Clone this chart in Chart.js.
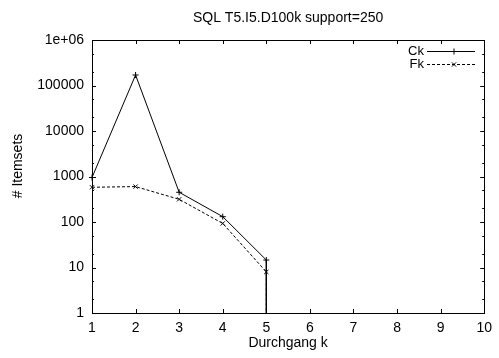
<!DOCTYPE html>
<html>
<head>
<meta charset="utf-8">
<script src="https://cdn.jsdelivr.net/npm/chart.js@4/dist/chart.umd.min.js"></script>
<style>
  html, body { margin: 0; padding: 0; background: #fff; }
  #wrap { width: 499px; height: 358px; }
</style>
</head>
<body>
<div id="wrap"><canvas id="c" width="499" height="358"></canvas></div>
<script>
// ---- data ----
const passes = [1, 2, 3, 4, 5, 5];               // Durchgang k
const ckValues = [950, 170000, 450, 131, 14.6, 0]; // Ck
const fkValues = [580, 600, 315, 93, 8, 0];        // Fk
const xTickValues = [1, 2, 3, 4, 5, 6, 7, 8, 9, 10];
const yTickValues = [1, 10, 100, 1000, 10000, 100000, 1000000];
const yTickLabels = ['1', '10', '100', '1000', '10000', '100000', '1e+06'];
const titleText = 'SQL T5.I5.D100k support=250';
const xTitle = 'Durchgang k';
const yTitle = '# Itemsets';

const FONT = '"Liberation Sans", Arial, Helvetica, sans-serif';
const Y_MIN = 1, Y_MAX = 1000000;

// a count of 0 cannot sit on a log axis: it is drawn on the bottom edge
function toPoints(xs, ys) {
  return xs.map((x, i) => ({ x: x, y: ys[i] === 0 ? Y_MIN : ys[i], zero: ys[i] === 0 }));
}

const frame = {
  id: 'frame',
  afterDatasetsDraw(chart) {
    const ctx = chart.ctx;
    const a = chart.chartArea;
    const xs = chart.scales.x, ys = chart.scales.y;
    ctx.save();
    ctx.strokeStyle = '#000';
    ctx.lineWidth = 1;
    ctx.setLineDash([]);
    ctx.beginPath();
    const major = 4, minor = 2;
    xTickValues.forEach(v => {
      const px = Math.round(xs.getPixelForValue(v)) + 0.5;
      ctx.moveTo(px, a.bottom); ctx.lineTo(px, a.bottom - major);
      ctx.moveTo(px, a.top); ctx.lineTo(px, a.top + major);
    });
    yTickValues.forEach(v => {
      const py = Math.round(ys.getPixelForValue(v)) + 0.5;
      ctx.moveTo(a.left, py); ctx.lineTo(a.left + major, py);
      ctx.moveTo(a.right, py); ctx.lineTo(a.right - major, py);
    });
    for (let d = 1; d < Y_MAX; d *= 10) {
      [2, 5].forEach(m => {
        const py = Math.round(ys.getPixelForValue(d * m)) + 0.5;
        ctx.moveTo(a.left, py); ctx.lineTo(a.left + minor, py);
        ctx.moveTo(a.right, py); ctx.lineTo(a.right - minor, py);
      });
    }
    ctx.stroke();
    ctx.strokeRect(Math.round(a.left) + 0.5, Math.round(a.top) + 0.5,
      Math.round(a.right - a.left), Math.round(a.bottom - a.top));
    ctx.restore();
  },
  afterDraw(chart) {
    const ctx = chart.ctx;
    const a = chart.chartArea;
    ctx.save();
    ctx.fillStyle = '#000';
    ctx.font = '14px ' + FONT;
    ctx.textAlign = 'center';
    ctx.textBaseline = 'middle';
    const cx = (a.left + a.right) / 2;
    ctx.fillText(titleText, cx, 18);
    ctx.fillText(xTitle, cx, 343);
    ctx.save();
    ctx.translate(18, 166);
    ctx.rotate(-Math.PI / 2);
    ctx.fillText(yTitle, 0, 0);
    ctx.restore();

    // legend
    const rowY = [51, 64];
    ctx.font = '13px ' + FONT;
    chart.data.datasets.forEach((ds, i) => {
      const y = rowY[i];
      ctx.textAlign = 'right';
      ctx.fillStyle = '#000';
      ctx.fillText(ds.label, 424, y);
      ctx.beginPath();
      ctx.strokeStyle = '#000';
      ctx.lineWidth = 1;
      ctx.setLineDash(ds.borderDash || []);
      ctx.moveTo(427, y + 0.5);
      ctx.lineTo(475, y + 0.5);
      ctx.stroke();
      ctx.setLineDash([]);
      Chart.helpers.drawPoint(ctx, {
        pointStyle: ds.pointStyle, radius: 3, rotation: 0, borderWidth: 1
      }, 454, y + 0.5);
    });
    ctx.restore();
  }
};

const markerRadius = (c) => (c.raw && c.raw.zero ? 0 : 3);

new Chart(document.getElementById('c'), {
  type: 'line',
  data: {
    datasets: [
      {
        label: 'Ck',
        data: toPoints(passes, ckValues),
        borderColor: '#000',
        backgroundColor: '#000',
        borderWidth: 1,
        pointStyle: 'cross',
        pointRadius: markerRadius,
        pointBorderWidth: 1,
        pointBorderColor: '#000',
        tension: 0,
        clip: false
      },
      {
        label: 'Fk',
        data: toPoints(passes, fkValues),
        borderColor: '#000',
        backgroundColor: '#000',
        borderWidth: 1,
        borderDash: [3, 2],
        pointStyle: 'crossRot',
        pointRadius: markerRadius,
        pointBorderWidth: 1,
        pointBorderColor: '#000',
        tension: 0,
        clip: false
      }
    ]
  },
  options: {
    responsive: false,
    animation: false,
    devicePixelRatio: 1,
    layout: { padding: { top: 40, right: 9, left: 0, bottom: 0 } },
    plugins: {
      legend: { display: false },
      title: { display: false },
      tooltip: { enabled: false }
    },
    scales: {
      x: {
        type: 'linear',
        min: 1, max: 10,
        grid: { display: false, drawTicks: false },
        border: { display: false },
        afterBuildTicks: (s) => { s.ticks = xTickValues.map(v => ({ value: v })); },
        afterFit: (s) => { s.height = 45; },
        ticks: {
          padding: 7,
          color: '#000',
          maxRotation: 0,
          autoSkip: false,
          font: { family: FONT, size: 14 },
          callback: (v) => String(v)
        }
      },
      y: {
        type: 'logarithmic',
        min: Y_MIN, max: Y_MAX,
        grid: { display: false, drawTicks: false },
        border: { display: false },
        afterBuildTicks: (s) => { s.ticks = yTickValues.map(v => ({ value: v })); },
        afterFit: (s) => { s.width = 92; },
        ticks: {
          padding: 8,
          color: '#000',
          autoSkip: false,
          font: { family: FONT, size: 14 },
          callback: (v) => {
            const i = yTickValues.indexOf(v);
            return i >= 0 ? yTickLabels[i] : '';
          }
        }
      }
    }
  },
  plugins: [frame]
});
</script>
</body>
</html>
